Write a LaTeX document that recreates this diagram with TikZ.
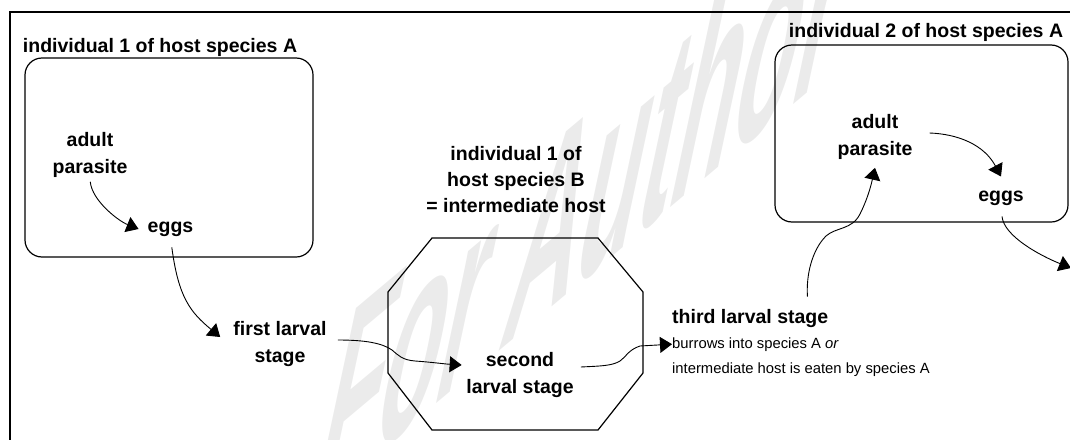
\documentclass[tikz,border=0pt]{standalone}
\usepackage{fontspec}
\setmainfont{Liberation Sans}
\usetikzlibrary{arrows.meta,calc}

\begin{document}
\begin{tikzpicture}[x=1pt, y=-1pt,
    host/.style={draw, line width=1.2pt, rounded corners=17pt, inner sep=0pt},
    stage/.style={font=\fontsize{19.5}{27}\selectfont\bfseries, align=center, inner sep=1pt},
    hosttitle/.style={font=\fontsize{19.5}{26}\selectfont\bfseries, align=center, inner sep=1pt},
    note/.style={font=\fontsize{14.8}{25}\selectfont, inner sep=0pt, anchor=base west},
    lifearrow/.style={line width=0.9pt, -{Triangle[length=12pt,width=16pt]}}]
    \useasboundingbox (0,0) rectangle (1070,439);
    \begin{scope}
    \clip (0,0) rectangle (1070,439);

    % Watermark
    \node[anchor=base west, inner sep=0pt, text=black!8,
          font=\fontsize{100}{100}\selectfont\bfseries,
          cm={1.003,0.842,0.614,2.885,(0,0)}] (stamp) at (307,513) {For Author};

    % Frame
    \draw[line width=1.8pt] (10,445) -- (10,12) -- (1075,12);

    % First host (species A)
    \node[hosttitle] (titleA1) at (160,47) {individual 1 of host species A};
    \node[host, minimum width=288pt, minimum height=199pt] (hostA1) at (169,157.5) {};
    \node[stage] (adult1) at (90,155) {adult\\parasite};
    \node[stage] (eggs1) at (170.5,229) {eggs};

    % Free larva
    \node[stage] (first) at (280,344) {first larval\\stage};

    % Intermediate host (species B)
    \node[hosttitle] (titleB) at (516,180) {individual 1 of\\host species B\\= intermediate host};
    \draw[line width=1.2pt] (432,238) -- (598,238) -- (643,292) -- (643,373)
        -- (598,430) -- (432,430) -- (388,373) -- (388,292) -- cycle;
    \node[stage] (second) at (520,375) {second\\larval stage};

    % Third stage
    \node[stage, anchor=base west, inner sep=0pt] (third) at (672,323) {third larval stage};
    \node[note] (burrow) at (672,348) {burrows into species A \textit{or}};
    \node[note] (eaten) at (672,373) {intermediate host is eaten by species A};

    % Second host (species A)
    \node[hosttitle] (titleA2) at (926,32) {individual 2 of host species A};
    \node[host, minimum width=293pt, minimum height=177pt] (hostA2) at (921.5,133.5) {};
    \node[stage] (adult2) at (875,137) {adult\\parasite};
    \node[stage] (eggs2) at (1001,198) {eggs};
    \coordinate (exit) at (1071,268);

    % Life cycle
    \draw[lifearrow, shorten <=3pt] (adult1.south) .. controls +(2,22) and +(-20,-8) .. ([xshift=-8pt]eggs1.west);
    \draw[lifearrow, shorten <=10pt] (eggs1.south) .. controls +(8,60) and +(-30,-25) .. ([shift={(-12pt,7pt)}]first.west);
    \draw[lifearrow] ([shift={(10pt,4pt)}]first.east) .. controls (365,340) and (382,343) .. (392,350)
        .. controls (398,355) and (402,360) .. (415,361)
        .. controls (430,362) and (445,364) .. ([shift={(-3.5pt,10pt)}]second.west);
    \draw[lifearrow] ([shift={(6pt,8pt)}]second.east) .. controls (600,366) and (612,366) .. (620,361)
        .. controls (626,357) and (628,350) .. (640,346) -- (burrow.west);
    \draw[lifearrow] ([shift={(-21pt,12pt)}]third.north east) .. controls (806,275) and (812,250) .. (826,236)
        .. controls (836,227) and (852,230) .. (860,214)
        .. controls (866,202) and (870,190) .. ([yshift=-7pt]adult2.south);
    \draw[lifearrow] ([shift={(16pt,4pt)}]adult2.east) .. controls +(28,1) and +(-17,-32) .. ([yshift=13pt]eggs2.north);
    \draw[lifearrow, shorten <=10pt] (eggs2.south) .. controls +(3,30) and +(-30,-12) .. (exit);
    \end{scope}
\end{tikzpicture}
\end{document}
